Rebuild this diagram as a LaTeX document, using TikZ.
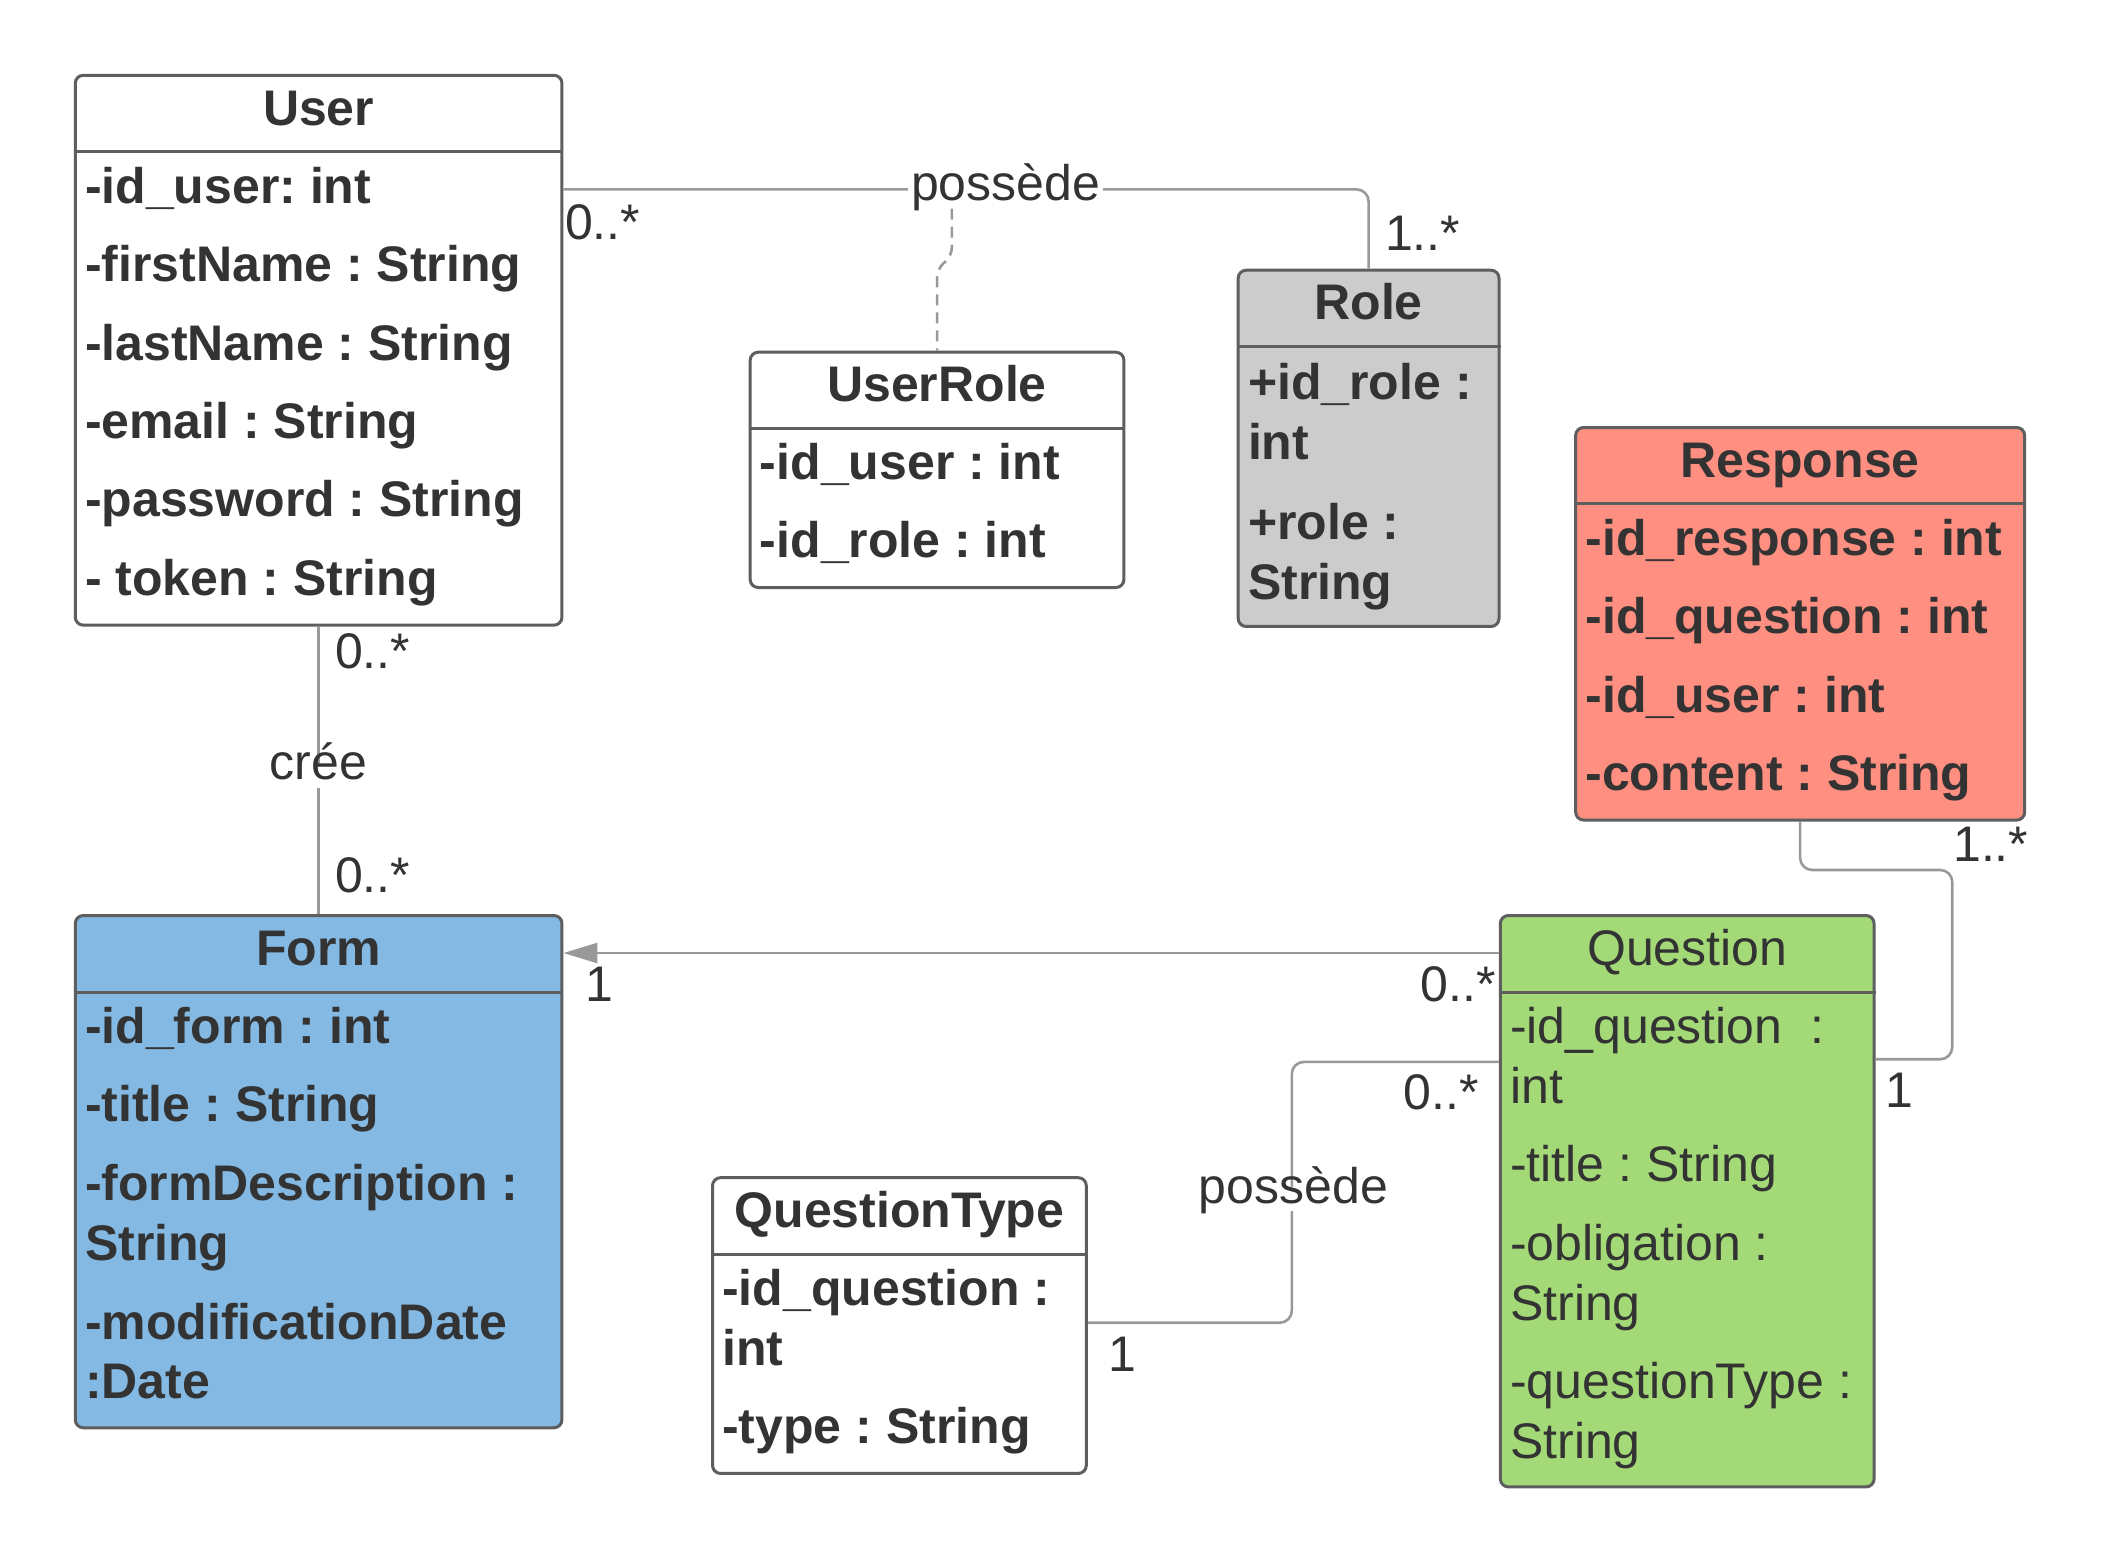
\documentclass[tikz,border=0pt]{standalone}
\usepackage{fontspec}
\setmainfont{Liberation Sans}
\usetikzlibrary{calc,fit,arrows.meta}
\definecolor{txt}{HTML}{333333}
\definecolor{bord}{HTML}{5E5E5E}
\definecolor{connc}{HTML}{999999}
\definecolor{rolefill}{HTML}{CCCCCC}
\definecolor{respfill}{HTML}{FF8F80}
\definecolor{formfill}{HTML}{83B9E3}
\definecolor{qfill}{HTML}{A3D977}
\newcommand\fsz{\fontsize{25}{29}\selectfont\frenchspacing}
\frenchspacing
\begin{document}
\begin{tikzpicture}[x=0.6722pt,y=-0.6722pt,
  cbox/.style={draw=bord, line width=1.5pt, rounded corners=4pt, inner sep=0pt, fill=white},
  hline/.style={draw=bord, line width=1.5pt},
  ttl/.style={anchor=base, inner sep=0pt, text=txt, font=\fsz\bfseries},
  ttln/.style={anchor=base, inner sep=0pt, text=txt, font=\fsz},
  attr/.style={anchor=base west, inner sep=0pt, text=txt, font=\fsz\bfseries},
  attrn/.style={anchor=base west, inner sep=0pt, text=txt, font=\fsz},
  mult/.style={inner sep=0pt, text=txt, font=\fsz},
  lab/.style={anchor=base, fill=white, inner xsep=1.5pt, inner ysep=0pt, text height=0.8em, text depth=0.4em, text=txt, font=\fsz},
  cline/.style={draw=connc, line width=1.3pt, rounded corners=6pt},
]
\useasboundingbox (0,0) rectangle (1568,1163);

% ---------- class boxes ----------
\node[cbox, fit={(56,56) (418,465)}] (user) {};
\node[cbox, fit={(558,262) (836,437)}] (userrole) {};
\node[cbox, fill=rolefill, fit={(921,201) (1115,466)}] (role) {};
\node[cbox, fill=respfill, fit={(1172,318) (1506,610)}] (response) {};
\node[cbox, fill=formfill, fit={(56,681) (418,1062)}] (form) {};
\node[cbox, fill=qfill, fit={(1116,681) (1394,1106)}] (question) {};
\node[cbox, fit={(530,876) (808,1096)}] (qtype) {};

\foreach \b in {user,userrole,role,response,form,question,qtype}
  \draw[hline] ($(\b.north west)+(0,58)$) -- ($(\b.north east)+(0,58)$);

% ---------- User ----------
\node[ttl] (userT) at (237,93) {User};
\node[attr] (u1) at (63,151) {-id\_user: int};
\node[attr] (u2) at (63,209.5) {-firstName : String};
\node[attr] (u3) at (63,268) {-lastName : String};
\node[attr] (u4) at (63,326) {-email : String};
\node[attr] (u5) at (63,384.5) {-password : String};
\node[attr] (u6) at (63,443) {- token : String};

% ---------- UserRole ----------
\node[ttl] (urT) at (697,299) {UserRole};
\node[attr] (ur1) at (565,357) {-id\_user : int};
\node[attr] (ur2) at (565,415) {-id\_role : int};

% ---------- Role ----------
\node[ttl] (roleT) at (1018,238) {Role};
\node[attr] (r1) at (928,297) {+id\_role :};
\node[attr] (r2) at (928,342) {int};
\node[attr] (r3) at (928,401) {+role :};
\node[attr] (r4) at (928,446) {String};

% ---------- Response ----------
\node[ttl] (respT) at (1339,355) {Response};
\node[attr] (rs1) at (1179,413) {-id\_response : int};
\node[attr] (rs2) at (1179,471.5) {-id\_question : int};
\node[attr] (rs3) at (1179,530) {-id\_user : int};
\node[attr] (rs4) at (1179,588) {-content : String};

% ---------- Form ----------
\node[ttl] (formT) at (237,718) {Form};
\node[attr] (f1) at (63,776) {-id\_form : int};
\node[attr] (f2) at (63,834.5) {-title : String};
\node[attr] (f3) at (63,893) {-formDescription :};
\node[attr] (f4) at (63,937.5) {String};
\node[attr] (f5) at (63,996) {-modificationDate};
\node[attr] (f6) at (63,1040.5) {:Date};

% ---------- Question ----------
\node[ttln] (qT) at (1255,718) {Question};
\node[attrn] (q1) at (1123,776) {-id\_question\ \ :};
\node[attrn] (q2) at (1123,820.5) {int};
\node[attrn] (q3) at (1123,879) {-title : String};
\node[attrn] (q4) at (1123,937.5) {-obligation :};
\node[attrn] (q5) at (1123,982) {String};
\node[attrn] (q6) at (1123,1040.5) {-questionType :};
\node[attrn] (q7) at (1123,1085) {String};

% ---------- QuestionType ----------
\node[ttl] (qtT) at (669,913) {QuestionType};
\node[attr] (qt1) at (537,971) {-id\_question :};
\node[attr] (qt2) at (537,1015.5) {int};
\node[attr] (qt3) at (537,1074) {-type : String};

% ---------- connectors ----------
\draw[cline] ($(user.north east)+(0,86)$) -| (role.north);
\draw[cline] (user.south) -- (form.north);
\draw[cline, -{Triangle[length=17pt,width=10pt,fill=connc]}] ($(question.north west)+(0,29)$) -- ($(form.north east)+(0,29)$);
\draw[cline] (response.south) -- ++(0,36) -| ($(question.north east)+(57,108)$) -- ($(question.north east)+(0,108)$);
\draw[cline] ($(qtype.north east)+(0,109)$) -| ($(question.north west)+(-154,110)$) -- ($(question.north west)+(0,110)$);

% ---------- association labels ----------
\node[lab] (lposs1) at (748,149) {poss\`ede};
\node[lab] (lcree) at (237,580) {cr\'ee};
\node[lab] (lposs2) at (962,895) {poss\`ede};

\draw[cline, rounded corners=4pt, dash pattern=on 5.5pt off 3.5pt]
  ($(lposs1.south)+(-40,0)$) -- ($(lposs1.south)+(-40,35)$) -- ($(lposs1.south)+(-51,45)$) -- (userrole.north);

% ---------- multiplicities ----------
\node[mult, anchor=base west] (m1) at (420,178) {0..*};
\node[mult, anchor=base west] (m2) at (1030,186) {1..*};
\node[mult, anchor=base west] (m3) at (249,497) {0..*};
\node[mult, anchor=base west] (m4) at (249,664) {0..*};
\node[mult, anchor=base west] (m5) at (435,745) {1};
\node[mult, anchor=base east] (m6) at (1113,745) {0..*};
\node[mult, anchor=base east] (m7) at (1509,641) {1..*};
\node[mult, anchor=base west] (m8) at (1402,824) {1};
\node[mult, anchor=base east] (m9) at (1100,825) {0..*};
\node[mult, anchor=base west] (m10) at (824,1020) {1};
\end{tikzpicture}
\end{document}
